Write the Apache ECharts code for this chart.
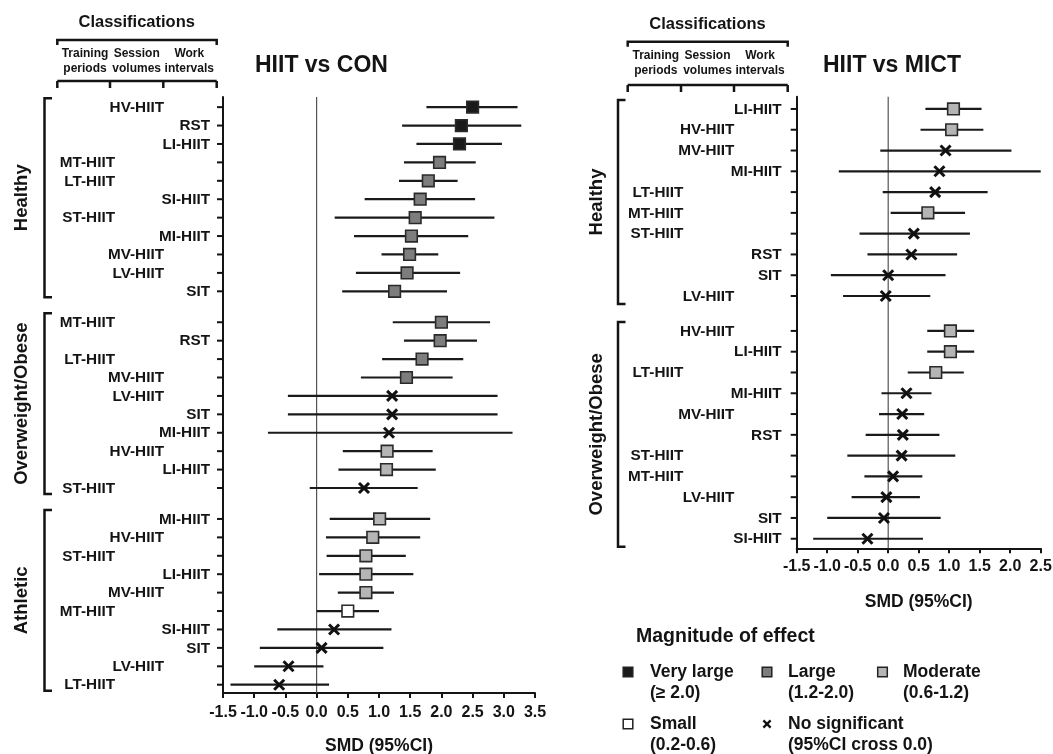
<!DOCTYPE html>
<html><head><meta charset="utf-8">
<script src="https://cdn.jsdelivr.net/npm/echarts@6/dist/echarts.min.js"></script>
<style>html,body{margin:0;padding:0;background:#fff}#c{width:1053px;height:754px}</style>
</head><body><div id="c"></div><script>
// ---------------- DATA ----------------
// HIIT vs CON
const conGroups = ['Healthy', 'Overweight/Obese', 'Athletic'];
const conGroupOf = [0,0,0,0,0,0,0,0,0,0,0, 1,1,1,1,1,1,1,1,1,1, 2,2,2,2,2,2,2,2,2,2];
const conLabels = ['HV-HIIT','RST','LI-HIIT','MT-HIIT','LT-HIIT','SI-HIIT','ST-HIIT','MI-HIIT','MV-HIIT','LV-HIIT','SIT',
  'MT-HIIT','RST','LT-HIIT','MV-HIIT','LV-HIIT','SIT','MI-HIIT','HV-HIIT','LI-HIIT','ST-HIIT',
  'MI-HIIT','HV-HIIT','ST-HIIT','LI-HIIT','MV-HIIT','MT-HIIT','SI-HIIT','SIT','LV-HIIT','LT-HIIT'];
const conSMD = [2.50,2.32,2.29,1.97,1.79,1.66,1.58,1.52,1.49,1.45,1.25,
  2.00,1.98,1.69,1.44,1.21,1.21,1.16,1.13,1.12,0.76,
  1.01,0.90,0.79,0.79,0.79,0.50,0.28,0.08,-0.45,-0.60];
const conLow = [1.76,1.37,1.60,1.40,1.32,0.77,0.29,0.60,1.04,0.63,0.41,
  1.22,1.40,1.05,0.71,-0.46,-0.46,-0.78,0.42,0.35,-0.11,
  0.21,0.15,0.16,0.04,0.34,0.00,-0.63,-0.91,-1.00,-1.38];
const conHigh = [3.22,3.28,2.97,2.55,2.26,2.54,2.85,2.43,1.95,2.30,2.09,
  2.78,2.57,2.35,2.18,2.90,2.90,3.14,1.86,1.91,1.62,
  1.82,1.66,1.43,1.55,1.24,1.00,1.20,1.07,0.11,0.20];
const conMagnitude = ['VL','VL','VL','L','L','L','L','L','L','L','L',
  'L','L','L','L','NS','NS','NS','M','M','NS',
  'M','M','M','M','M','S','NS','NS','NS','NS'];
const conTicks = [-1.5,-1.0,-0.5,0.0,0.5,1.0,1.5,2.0,2.5,3.0,3.5];

// HIIT vs MICT
const mictGroups = ['Healthy', 'Overweight/Obese'];
const mictGroupOf = [0,0,0,0,0,0,0,0,0,0, 1,1,1,1,1,1,1,1,1,1,1];
const mictLabels = ['LI-HIIT','HV-HIIT','MV-HIIT','MI-HIIT','LT-HIIT','MT-HIIT','ST-HIIT','RST','SIT','LV-HIIT',
  'HV-HIIT','LI-HIIT','LT-HIIT','MI-HIIT','MV-HIIT','RST','ST-HIIT','MT-HIIT','LV-HIIT','SIT','SI-HIIT'];
const mictSMD = [1.07,1.04,0.94,0.84,0.77,0.65,0.42,0.38,0.00,-0.04,
  1.02,1.02,0.78,0.30,0.23,0.24,0.22,0.08,-0.03,-0.07,-0.34];
const mictLow = [0.61,0.53,-0.13,-0.81,-0.09,0.04,-0.47,-0.34,-0.94,-0.74,
  0.64,0.64,0.32,-0.11,-0.15,-0.37,-0.67,-0.39,-0.60,-1.00,-1.23];
const mictHigh = [1.53,1.56,2.02,2.50,1.63,1.26,1.34,1.13,0.94,0.69,
  1.41,1.41,1.24,0.71,0.59,0.84,1.10,0.56,0.52,0.86,0.57];
const mictMagnitude = ['M','M','NS','NS','NS','M','NS','NS','NS','NS',
  'M','M','M','NS','NS','NS','NS','NS','NS','NS','NS'];
const mictTicks = [-1.5,-1.0,-0.5,0.0,0.5,1.0,1.5,2.0,2.5];

const magnitudeNames = ['Very large', 'Large', 'Moderate', 'Small', 'No significant'];
const magnitudeRanges = ['(\u2265 2.0)', '(1.2-2.0)', '(0.6-1.2)', '(0.2-0.6)', '(95%CI cross 0.0)'];

// ---------------- STYLE / LAYOUT ----------------
const FONT = '"Liberation Sans", Arial, Helvetica, sans-serif';
const INK = '#141414';
const MAG_FILL = {VL: '#1a1a1a', L: '#7d7d7d', M: '#b5b5b5', S: '#ffffff'};
const GAP = 0.68;
const rowPositions = g => g.map((gi, i) => i + gi * GAP);
const conPos = rowPositions(conGroupOf);
const mictPos = rowPositions(mictGroupOf);

function columnOf(label) {
  if (/^[LMS]T-HIIT$/.test(label)) return 0;     // training periods
  if (/^[HML]V-HIIT$/.test(label)) return 1;     // session volumes
  return 2;                                       // work intervals
}

function txt(x, y, text, size, align, vAlign, extra) {
  return Object.assign({
    type: 'text', x: x, y: y, silent: true,
    style: {text: text, fontFamily: FONT, fontWeight: 'bold', fontSize: size, fill: INK,
      align: align, textAlign: align, verticalAlign: vAlign, textVerticalAlign: vAlign}
  }, extra || {});
}

function markRenderer(mag) {
  return function (params, api) {
    const y = api.value(3);
    const p = api.coord([api.value(0), y]);
    const l = api.coord([api.value(1), y]);
    const h = api.coord([api.value(2), y]);
    const ch = [{type: 'line', shape: {x1: l[0], y1: l[1], x2: h[0], y2: h[1]},
      style: {stroke: '#1a1a1a', lineWidth: 2.2}}];
    const m = mag[params.dataIndex];
    if (m === 'NS') {
      const s = 5;
      ch.push({type: 'polyline', shape: {points: [[p[0]-s, p[1]-s], [p[0]+s, p[1]+s]]}, style: {stroke: '#111', lineWidth: 3, fill: null}});
      ch.push({type: 'polyline', shape: {points: [[p[0]-s, p[1]+s], [p[0]+s, p[1]-s]]}, style: {stroke: '#111', lineWidth: 3, fill: null}});
    } else {
      ch.push({type: 'rect', shape: {x: p[0]-5.8, y: p[1]-5.8, width: 11.6, height: 11.6},
        style: {fill: MAG_FILL[m], stroke: '#2a2a2a', lineWidth: 1.6}});
    }
    return {type: 'group', children: ch};
  };
}

function labelRenderer(labels, offsets) {
  return function (params, api) {
    const p = api.coord([api.value(0), api.value(1)]);
    const t = labels[params.dataIndex];
    return {type: 'group', children: [
      {type: 'line', shape: {x1: p[0]-6, y1: p[1], x2: p[0], y2: p[1]}, style: {stroke: INK, lineWidth: 2}},
      txt(p[0] + offsets[columnOf(t)], p[1] + 0.5, t, 15.3, 'right', 'middle')
    ]};
  };
}

function groupRenderer(names, bx, lx, padTop, padBot) {
  return function (params, api) {
    const top = api.coord([api.value(0), api.value(1)])[1] - padTop;
    const bot = api.coord([api.value(0), api.value(2)])[1] + padBot;
    return {type: 'group', children: [
      {type: 'polyline', shape: {points: [[bx+7.5, top], [bx, top], [bx, bot], [bx+7.5, bot]]},
        style: {stroke: INK, lineWidth: 2.5, fill: null}},
      txt(lx, (top + bot) / 2, names[params.dataIndex], 18.5, 'center', 'middle', {rotation: Math.PI / 2})
    ]};
  };
}

function groupData(groupOf, pos, xmin) {
  const out = [];
  groupOf.forEach((g, i) => {
    if (!out[g]) out[g] = [xmin, pos[i], pos[i]];
    out[g][2] = pos[i];
  });
  return out;
}

function xAxisCfg(gi, ticks, nameGap, margin) {
  return {
    type: 'value', gridIndex: gi, min: ticks[0], max: ticks[ticks.length - 1], interval: 0.5,
    axisLine: {show: true, onZero: false, lineStyle: {color: INK, width: 2}},
    axisTick: {show: true, length: 5, lineStyle: {color: INK, width: 2}},
    axisLabel: {formatter: v => v.toFixed(1), fontFamily: FONT, fontWeight: 'bold', fontSize: 16, color: INK, margin: margin},
    splitLine: {show: false},
    name: 'SMD (95%CI)', nameLocation: 'middle', nameGap: nameGap,
    nameTextStyle: {fontFamily: FONT, fontWeight: 'bold', fontSize: 17.5, color: INK}
  };
}
function yAxisCfg(gi, min, max) {
  return {
    type: 'value', gridIndex: gi, inverse: true, min: min, max: max,
    axisLine: {show: true, onZero: false, lineStyle: {color: INK, width: 2}},
    axisTick: {show: false}, axisLabel: {show: false}, splitLine: {show: false}
  };
}

const conYMin = -0.55, conYMax = conPos[conPos.length - 1] + 0.45;
const mictYMin = -0.59, mictYMax = mictPos[mictPos.length - 1] + 0.46;

// header graphics (classification brackets)
function header(dx, y0, yb, ys1, yl, ticksX) {
  const L = ticksX[0], R = ticksX[3];
  return [
    txt(dx + 136.7, y0, 'Classifications', 16.5, 'center', 'middle'),
    {type: 'polyline', silent: true, shape: {points: [[L, yb + 5], [L, yb], [R, yb], [R, yb + 5]]}, style: {stroke: INK, lineWidth: 2.5, fill: null}},
    txt(dx + 85, ys1, 'Training', 12, 'center', 'middle'),
    txt(dx + 85, ys1 + 15, 'periods', 12, 'center', 'middle'),
    txt(dx + 136.7, ys1, 'Session', 12, 'center', 'middle'),
    txt(dx + 136.7, ys1 + 15, 'volumes', 12, 'center', 'middle'),
    txt(dx + 189.3, ys1, 'Work', 12, 'center', 'middle'),
    txt(dx + 189.3, ys1 + 15, 'intervals', 12, 'center', 'middle'),
    {type: 'polyline', silent: true, shape: {points: [[L, yl], [R, yl]]}, style: {stroke: INK, lineWidth: 2.5, fill: null}}
  ].concat(ticksX.map(x => ({type: 'line', silent: true, shape: {x1: x, y1: yl, x2: x, y2: yl + 7}, style: {stroke: INK, lineWidth: 2.5}})));
}

function legendGraphics() {
  const g = [txt(636, 637, 'Magnitude of effect', 19.5, 'left', 'middle')];
  const items = [
    {x: 628, y: 672, mag: 'VL', tx: 650},
    {x: 767, y: 672, mag: 'L', tx: 788},
    {x: 882.5, y: 672, mag: 'M', tx: 903},
    {x: 628, y: 724, mag: 'S', tx: 650},
    {x: 767, y: 724, mag: 'NS', tx: 788}
  ];
  items.forEach((it, i) => {
    if (it.mag === 'NS') {
      const s = 3.6;
      g.push({type: 'polyline', silent: true, shape: {points: [[it.x-s, it.y-s], [it.x+s, it.y+s]]}, style: {stroke: '#111', lineWidth: 2.3, fill: null}});
      g.push({type: 'polyline', silent: true, shape: {points: [[it.x-s, it.y+s], [it.x+s, it.y-s]]}, style: {stroke: '#111', lineWidth: 2.3, fill: null}});
    } else {
      g.push({type: 'rect', silent: true, shape: {x: it.x - 4.8, y: it.y - 4.8, width: 9.6, height: 9.6},
        style: {fill: MAG_FILL[it.mag], stroke: '#222', lineWidth: 1.5}});
    }
    g.push(txt(it.tx, it.y, magnitudeNames[i], 17.5, 'left', 'middle'));
    g.push(txt(it.tx, it.y + 21.5, magnitudeRanges[i], 17.5, 'left', 'middle'));
  });
  return g;
}

const chart = echarts.init(document.getElementById('c'), null, {renderer: 'canvas'});
chart.setOption({
  animation: false,
  backgroundColor: '#fff',
  grid: [
    {left: 223, top: 97, width: 312, height: 596, containLabel: false, outerBoundsMode: 'none'},
    {left: 796.7, top: 96.7, width: 244, height: 451.6, containLabel: false, outerBoundsMode: 'none'}
  ],
  xAxis: [xAxisCfg(0, conTicks, 44.5, 11.5), xAxisCfg(1, mictTicks, 45, 10)],
  yAxis: [yAxisCfg(0, conYMin, conYMax), yAxisCfg(1, mictYMin, mictYMax)],
  graphic: {elements: [
    txt(255, 66, 'HIIT vs CON', 23, 'left', 'middle'),
    txt(823, 66, 'HIIT vs MICT', 23, 'left', 'middle')
  ].concat(header(0, 22, 40, 53.5, 81, [57.3, 110, 163.3, 216.7]))
   .concat(header(570.8, 24, 41.7, 56, 85, [627.7, 681, 734, 787.7]))
   .concat(legendGraphics())},
  series: [
    // zero reference lines
    {type: 'line', xAxisIndex: 0, yAxisIndex: 0, data: [[0, conYMin], [0, conYMax]], symbol: 'none', silent: true,
      lineStyle: {color: '#555', width: 1.2}, z: 1},
    {type: 'line', xAxisIndex: 1, yAxisIndex: 1, data: [[0, mictYMin], [0, mictYMax]], symbol: 'none', silent: true,
      lineStyle: {color: '#555', width: 1.2}, z: 1},
    // estimates with 95% CI
    {type: 'custom', xAxisIndex: 0, yAxisIndex: 0, renderItem: markRenderer(conMagnitude), silent: true,
      encode: {x: [0, 1, 2], y: 3}, data: conSMD.map((v, i) => [v, conLow[i], conHigh[i], conPos[i]]), z: 3},
    {type: 'custom', xAxisIndex: 1, yAxisIndex: 1, renderItem: markRenderer(mictMagnitude), silent: true,
      encode: {x: [0, 1, 2], y: 3}, data: mictSMD.map((v, i) => [v, mictLow[i], mictHigh[i], mictPos[i]]), z: 3},
    // row labels + ticks
    {type: 'custom', xAxisIndex: 0, yAxisIndex: 0, renderItem: labelRenderer(conLabels, [-108, -59, -13]), silent: true,
      encode: {x: 0, y: 1}, data: conPos.map(p => [conTicks[0], p]), z: 3},
    {type: 'custom', xAxisIndex: 1, yAxisIndex: 1, renderItem: labelRenderer(mictLabels, [-113.4, -62.4, -15]), silent: true,
      encode: {x: 0, y: 1}, data: mictPos.map(p => [mictTicks[0], p]), z: 3},
    // group brackets
    {type: 'custom', xAxisIndex: 0, yAxisIndex: 0, renderItem: groupRenderer(conGroups, 44.5, 22, 9, 6), silent: true,
      encode: {x: 0, y: [1, 2]}, data: groupData(conGroupOf, conPos, conTicks[0]), z: 3},
    {type: 'custom', xAxisIndex: 1, yAxisIndex: 1, renderItem: groupRenderer(mictGroups, 618, 597, 9, 8), silent: true,
      encode: {x: 0, y: [1, 2]}, data: groupData(mictGroupOf, mictPos, mictTicks[0]), z: 3}
  ]
});
</script></body></html>
